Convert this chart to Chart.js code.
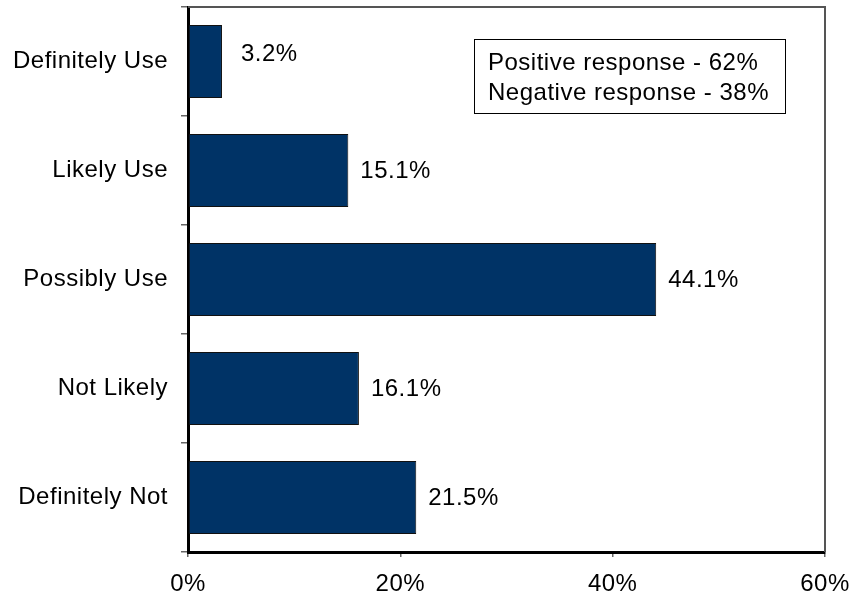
<!DOCTYPE html>
<html>
<head>
<meta charset="utf-8">
<script src="https://cdn.jsdelivr.net/npm/chart.js@4/dist/chart.umd.min.js"></script>
<style>
  html, body { margin: 0; padding: 0; background: #fff; }
  #wrap { width: 854px; height: 596px; }
</style>
</head>
<body>
<div id="wrap"><canvas id="c" width="854" height="596"></canvas></div>
<script>
const categories = ["Definitely Use", "Likely Use", "Possibly Use", "Not Likely", "Definitely Not"];
const values = [3.2, 15.1, 44.1, 16.1, 21.5];
const xTicks = [0, 20, 40, 60];
const noteLines = ["Positive response - 62%", "Negative response - 38%"];

const FONT = '"Liberation Sans", Arial, Helvetica, sans-serif';
const FS = 24;
const SPACING = '0.5px';

const spacingPlugin = {
  id: 'spacing',
  beforeInit(chart) { if ('letterSpacing' in chart.ctx) chart.ctx.letterSpacing = SPACING; },
  beforeUpdate(chart) { if ('letterSpacing' in chart.ctx) chart.ctx.letterSpacing = SPACING; },
  beforeDraw(chart) { if ('letterSpacing' in chart.ctx) chart.ctx.letterSpacing = SPACING; }
};

const frameAndLabels = {
  id: 'frameAndLabels',
  afterDatasetsDraw(chart) {
    const ctx = chart.ctx;
    const a = chart.chartArea;
    ctx.save();
    if ('letterSpacing' in ctx) ctx.letterSpacing = SPACING;
    // grey frame top and right
    ctx.strokeStyle = '#555';
    ctx.lineWidth = 2;
    ctx.beginPath();
    ctx.moveTo(a.left, a.top);
    ctx.lineTo(a.right, a.top);
    ctx.lineTo(a.right, a.bottom);
    ctx.stroke();
    // value labels
    ctx.fillStyle = '#000';
    ctx.font = FS + 'px ' + FONT;
    ctx.textAlign = 'left';
    ctx.textBaseline = 'middle';
    const meta = chart.getDatasetMeta(0);
    const shifts = [[7, -8], [0, 0], [0, 0], [0, 0], [0, 0]];
    meta.data.forEach((bar, i) => {
      const s = shifts[i] || [0, 0];
      ctx.fillText(values[i].toFixed(1) + '%', bar.x + 12 + s[0], bar.y + 1 + s[1]);
    });
    // note box
    ctx.strokeStyle = '#000';
    ctx.lineWidth = 1;
    ctx.strokeRect(474.5, 39.5, 311, 74);
    ctx.textBaseline = 'alphabetic';
    noteLines.forEach((t, i) => ctx.fillText(t, 488, 70 + i * 29.5));
    ctx.restore();
  }
};

new Chart(document.getElementById('c'), {
  type: 'bar',
  data: {
    labels: categories,
    datasets: [{
      data: values,
      backgroundColor: '#003366',
      borderColor: '#111',
      borderWidth: 1,
      borderSkipped: false,
      barPercentage: 0.67,
      categoryPercentage: 1
    }]
  },
  options: {
    indexAxis: 'y',
    responsive: false,
    animation: false,
    devicePixelRatio: 1,
    layout: { padding: { top: 7, right: 29, bottom: 0, left: 0 } },
    plugins: { legend: { display: false }, tooltip: { enabled: false } },
    scales: {
      x: {
        type: 'linear',
        min: xTicks[0],
        max: xTicks[xTicks.length - 1],
        afterBuildTicks(scale) { scale.ticks = xTicks.map(v => ({ value: v })); },
        afterFit(scale) { scale.height = 44; scale.paddingLeft = 0; scale.paddingRight = 0; },
        grid: { drawOnChartArea: false, drawTicks: true, tickLength: 5, color: '#666', lineWidth: 1.5 },
        border: { display: true, color: '#000', width: 3 },
        ticks: {
          color: '#000',
          font: { family: FONT, size: FS },
          padding: 13,
          maxRotation: 0,
          callback: v => v + '%'
        }
      },
      y: {
        offset: true,
        afterFit(scale) { scale.width = 188; scale.paddingTop = 0; scale.paddingBottom = 0; },
        grid: { offset: true, drawOnChartArea: false, drawTicks: true, tickLength: 7, color: '#666', lineWidth: 1.5 },
        border: { display: true, color: '#000', width: 3 },
        ticks: {
          color: '#000',
          font: { family: FONT, size: FS },
          padding: 13
        }
      }
    }
  },
  plugins: [spacingPlugin, frameAndLabels]
});
</script>
</body>
</html>
